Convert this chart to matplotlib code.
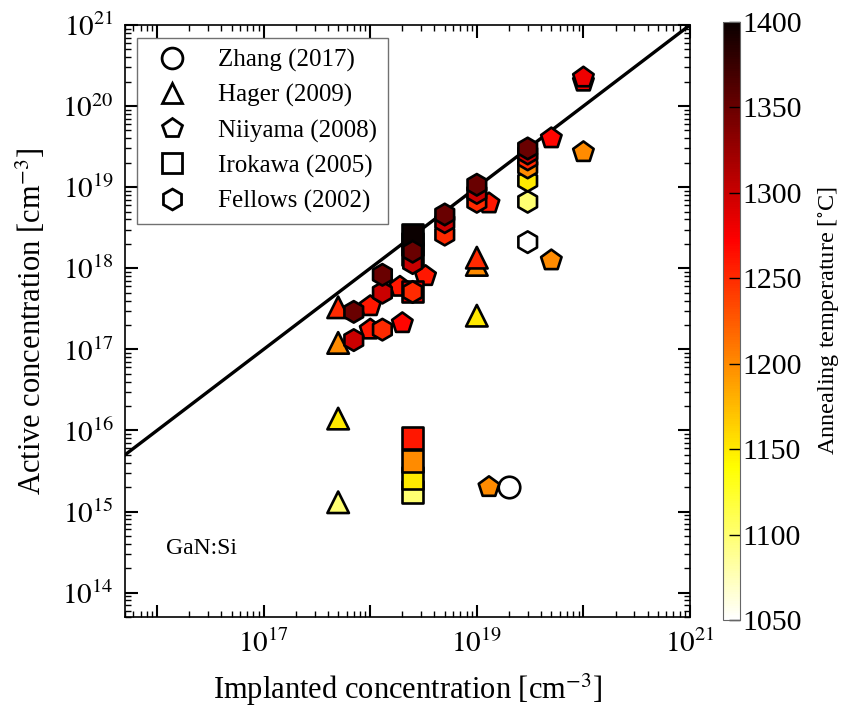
import numpy as np
import matplotlib
matplotlib.use("Agg")
import matplotlib.pyplot as plt
from matplotlib.lines import Line2D
from matplotlib.ticker import FixedLocator, LogLocator, NullFormatter

plt.rcParams['font.family'] = ['Liberation Serif', 'DejaVu Serif']
plt.rcParams['mathtext.fontset'] = 'stix'

# Zhang (2017)
zhang_x = [2.0e19]
zhang_y = [2.0e15]
zhang_t = [1050]

# Hager (2009)
hager_x = [5e17, 5e17, 5e17, 5e17, 1e19, 1e19, 1e19]
hager_y = [1.3e15, 1.4e16, 1.2e17, 3.3e17, 2.6e17, 1.1e18, 1.35e18]
hager_t = [1100, 1150, 1200, 1250, 1150, 1200, 1250]

# Niiyama (2008)
niiyama_x = [1.3e19, 5e19, 1e20, 1e18, 1e18, 2e18, 1.9e18, 3.3e18, 1.3e19, 5e19, 1e20, 1e20]
niiyama_y = [2.0e15, 1.25e18, 2.7e19, 1.75e17, 3.4e17, 2.1e17, 5.9e17, 8.0e17, 6.3e18, 4.0e19, 2.0e20, 2.25e20]
niiyama_t = [1200, 1200, 1200, 1260, 1260, 1270, 1260, 1260, 1260, 1270, 1280, 1280]

# Irokawa (2005)
irokawa_x = [2.5e18] * 8
irokawa_y = [1.75e15, 2.6e15, 4.2e15, 8.1e15, 5.2e17, 1.5e18, 2.0e18, 2.6e18]
irokawa_t = [1100, 1150, 1200, 1260, 1290, 1400, 1400, 1400]

# Fellows (2002)
fellows_x = [7e17, 7e17, 1.3e18, 1.3e18, 1.3e18, 2.5e18, 2.5e18, 2.5e18,
             5e18, 5e18, 5e18, 1e19, 1e19, 1e19,
             3e19, 3e19, 3e19, 3e19, 3e19, 3e19, 3e19]
fellows_y = [1.3e17, 2.9e17, 1.75e17, 5.0e17, 8.3e17, 5.1e17, 1.16e18, 1.6e18,
             2.6e18, 3.7e18, 4.6e18, 6.6e18, 8.5e18, 1.07e19,
             2.1e18, 6.6e18, 1.2e19, 1.75e19, 2.2e19, 2.6e19, 3.0e19]
fellows_t = [1300, 1350, 1250, 1300, 1350, 1250, 1300, 1350,
             1250, 1300, 1350, 1250, 1300, 1350,
             1050, 1100, 1150, 1200, 1250, 1300, 1350]

datasets = [
    ("Zhang (2017)", "o", zhang_x, zhang_y, zhang_t),
    ("Hager (2009)", "^", hager_x, hager_y, hager_t),
    ("Niiyama (2008)", "p", niiyama_x, niiyama_y, niiyama_t),
    ("Irokawa (2005)", "s", irokawa_x, irokawa_y, irokawa_t),
    ("Fellows (2002)", "h", fellows_x, fellows_y, fellows_t),
]

W, H = 846, 709
fig = plt.figure(figsize=(W / 100, H / 100), dpi=100)
ax = fig.add_axes([125 / W, (H - 617) / H, 565 / W, 592 / H])
cax = fig.add_axes([723 / W, (H - 620) / H, 17 / W, 598 / H])

xmin, xmax = 5e15, 1e21
ymin, ymax = 5e13, 1e21

line_x = np.array([xmin, xmax])
ax.plot(line_x, line_x, color='black', lw=2.4, zorder=1)

cmap = plt.get_cmap('hot_r')
sc = None
for label, marker, xs, ys, ts in datasets:
    sc = ax.scatter(xs, ys, c=ts, cmap=cmap, vmin=1050, vmax=1400, marker=marker,
                    s=240, edgecolors='black', linewidths=1.9, zorder=3)

ax.set_xscale('log')
ax.set_yscale('log')
ax.set_xlim(xmin, xmax)
ax.set_ylim(ymin, ymax)

xmaj = [1e16, 1e17, 1e18, 1e19, 1e20, 1e21]
xlabels = ['', r'$10^{17}$', '', r'$10^{19}$', '', r'$10^{21}$']
ax.xaxis.set_major_locator(FixedLocator(xmaj))
ax.set_xticklabels(xlabels)
ymaj = [10.0 ** k for k in range(14, 22)]
ax.yaxis.set_major_locator(FixedLocator(ymaj))
ax.set_yticklabels([r'$10^{%d}$' % k for k in range(14, 22)])
for a in (ax.xaxis, ax.yaxis):
    a.set_minor_locator(LogLocator(base=10, subs=np.arange(2, 10), numticks=30))
    a.set_minor_formatter(NullFormatter())

ax.tick_params(which='both', direction='in', top=True, right=True, labelsize=21)
ax.tick_params(which='major', length=9, width=1.5)
ax.tick_params(which='minor', length=4.5, width=1.0)
ax.tick_params(axis='x', pad=9)
ax.tick_params(axis='y', pad=8)
for sp in ax.spines.values():
    sp.set_linewidth(1.2)

ax.set_xlabel(r'Implanted concentration [cm$^{-3}$]', fontsize=22, labelpad=10)
ax.set_ylabel(r'Active concentration [cm$^{-3}$]', fontsize=22, labelpad=10)

ax.text(0.072, 0.115, 'GaN:Si', transform=ax.transAxes, fontsize=17,
        ha='left', va='center')

handles = [Line2D([], [], ls='none', marker=m, markersize=15, markerfacecolor='white',
                  markeredgecolor='black', markeredgewidth=2.0, label=lab)
           for lab, m, *_ in datasets]
leg = ax.legend(handles=handles, loc='upper left', fontsize=18, frameon=True,
                fancybox=False, edgecolor='0.3', borderpad=0.45, labelspacing=0.48,
                handletextpad=0.9, handlelength=1.9, borderaxespad=0,
                bbox_to_anchor=(0.021, 0.978))
leg.get_frame().set_linewidth(1.0)

cb = fig.colorbar(sc, cax=cax, ticks=np.arange(1050, 1401, 50))
cb.ax.tick_params(direction='in', length=8, width=1.0, labelsize=21.5, pad=2)
cb.outline.set_linewidth(0.8)
cb.outline.set_edgecolor('0.4')
cb.set_label(r'Annealing temperature [$^{\circ}$C]', fontsize=17.5, labelpad=10)

fig.savefig('out.png', dpi=100)
